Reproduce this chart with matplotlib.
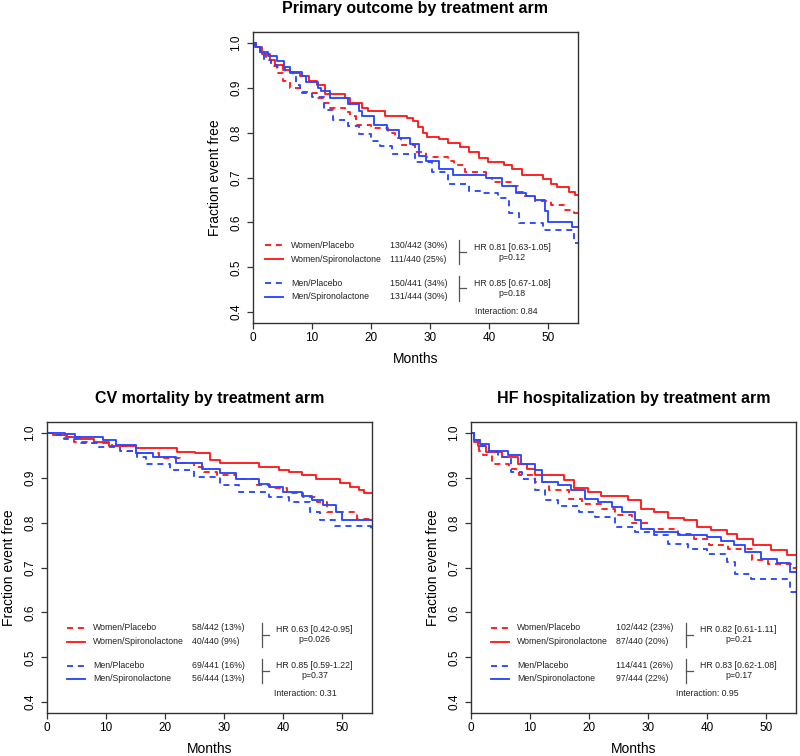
import matplotlib
matplotlib.use('Agg')
import matplotlib.pyplot as plt

plt.rcParams['font.family'] = ['Liberation Sans', 'DejaVu Sans']

# ---- data: Kaplan-Meier steps (months, fraction event free) ----
# Primary outcome
po_wp_t = [0, 0.5, 1.3, 2.2, 3, 4, 5, 6.3, 8.3, 10.8, 12, 13, 15.5, 16.5, 17.5, 20, 22.8, 24, 25, 27.5, 29.3,
           33, 34, 35.8, 39.5, 40.5, 44, 44.8, 45.7, 47.8, 50.5, 52.8, 54.3]
po_wp_s = [1.0, 0.99, 0.975, 0.962, 0.948, 0.932, 0.915, 0.9, 0.888, 0.878, 0.866, 0.855, 0.846, 0.836, 0.818,
           0.81, 0.798, 0.789, 0.772, 0.757, 0.746, 0.737, 0.727, 0.712, 0.7, 0.69, 0.68, 0.668, 0.658, 0.647,
           0.638, 0.628, 0.62]
po_ws_t = [0, 0.5, 1.5, 2.8, 3.8, 5, 6.3, 8, 9.5, 10.8, 12.2, 15.5, 16.5, 18.5, 19.5, 22.3, 26, 27, 28, 28.8,
           29.5, 31.5, 33, 35, 36.5, 38.3, 39.7, 42.5, 43.8, 45.5, 49, 50.5, 51.5, 53.5, 54.5]
po_ws_s = [1.0, 0.99, 0.975, 0.962, 0.95, 0.94, 0.932, 0.925, 0.915, 0.905, 0.885, 0.877, 0.867, 0.855, 0.848,
           0.838, 0.833, 0.826, 0.812, 0.8, 0.79, 0.786, 0.777, 0.768, 0.757, 0.744, 0.735, 0.727, 0.718, 0.705,
           0.697, 0.686, 0.678, 0.668, 0.66]
po_mp_t = [0, 0.5, 1.2, 1.8, 3, 4, 5.5, 6.8, 7.3, 8, 10, 12, 13.5, 16, 18, 20, 21.5, 23.5, 27.5, 30.3, 33,
           36.5, 39, 41.5, 43.3, 45, 49, 54.3]
po_mp_s = [1.0, 0.99, 0.975, 0.962, 0.95, 0.945, 0.935, 0.925, 0.905, 0.89, 0.88, 0.85, 0.828, 0.814, 0.797,
           0.782, 0.77, 0.752, 0.735, 0.712, 0.686, 0.67, 0.665, 0.655, 0.62, 0.598, 0.582, 0.555]
po_ms_t = [0, 0.4, 1.2, 2.5, 4, 5.3, 6.3, 8.3, 9, 11, 11.5, 13, 16, 18, 18.5, 20.5, 22.7, 24.7, 26.5, 28.1,
           29.3, 31.5, 33.8, 39.5, 42.2, 44.5, 46.2, 47.8, 49.5, 50, 54]
po_ms_s = [1.0, 0.99, 0.98, 0.97, 0.96, 0.945, 0.935, 0.925, 0.912, 0.9, 0.893, 0.877, 0.863, 0.848, 0.836,
           0.818, 0.805, 0.787, 0.774, 0.748, 0.736, 0.72, 0.706, 0.699, 0.682, 0.665, 0.658, 0.65, 0.625, 0.6,
           0.59]

# CV mortality
cv_wp_t = [0, 1.5, 3, 4.5, 6.7, 11, 13.5, 15, 19, 22.5, 24.8, 26.5, 28.7, 32, 35.5, 37.8, 40.6, 43.4, 45.7,
           47.4, 52.5]
cv_wp_s = [1.0, 0.996, 0.99, 0.98, 0.978, 0.97, 0.96, 0.954, 0.943, 0.932, 0.924, 0.913, 0.905, 0.896, 0.883,
           0.876, 0.865, 0.857, 0.846, 0.824, 0.809]
cv_ws_t = [0, 1, 3.3, 5.6, 8, 10.5, 15, 22, 25, 27.6, 29.2, 35.8, 39.3, 41, 43.2, 45.6, 49.5, 51.2, 52.8, 53.6]
cv_ws_s = [1.0, 0.995, 0.99, 0.987, 0.98, 0.97, 0.965, 0.958, 0.954, 0.94, 0.932, 0.924, 0.917, 0.912, 0.905,
           0.896, 0.888, 0.88, 0.872, 0.866]
cv_mp_t = [0, 1, 2.8, 5.5, 8.4, 12.4, 15.2, 16.8, 20.8, 24.8, 29.2, 32.5, 37.6, 41, 44.5, 46.2, 48.8, 54.8]
cv_mp_s = [1.0, 0.995, 0.987, 0.978, 0.969, 0.96, 0.946, 0.93, 0.918, 0.902, 0.883, 0.868, 0.857, 0.846, 0.824,
           0.806, 0.792, 0.782]
cv_ms_t = [0, 3, 4.8, 9.5, 11.7, 15, 18, 21.8, 26.3, 29.2, 32, 35.8, 37.6, 40, 43.2, 44.8, 46.7, 48.9, 50]
cv_ms_s = [1.0, 0.998, 0.99, 0.985, 0.972, 0.956, 0.945, 0.933, 0.92, 0.91, 0.898, 0.887, 0.88, 0.868, 0.859,
           0.85, 0.84, 0.824, 0.806]

# HF hospitalization
hf_wp_t = [0, 0.5, 1.3, 2, 3.6, 6.5, 8.2, 10.8, 13.2, 16.5, 18.8, 22.2, 24.4, 27.2, 30, 35, 37.8, 40.2, 43.5,
           47.5, 50.2, 54.2]
hf_wp_s = [1.0, 0.98, 0.96, 0.95, 0.93, 0.92, 0.905, 0.89, 0.872, 0.853, 0.842, 0.831, 0.816, 0.798, 0.786,
           0.775, 0.764, 0.749, 0.742, 0.716, 0.708, 0.7]
hf_ws_t = [0, 0.5, 1.2, 2.5, 5.2, 8, 9.5, 10.8, 15.8, 17.5, 19.8, 22, 26.6, 28.8, 31, 33.3, 36, 38.3, 40.6,
           43.3, 45, 47.8, 50.8, 53.5]
hf_ws_s = [1.0, 0.985, 0.97, 0.957, 0.946, 0.93, 0.92, 0.905, 0.894, 0.876, 0.868, 0.859, 0.85, 0.831, 0.824,
           0.811, 0.805, 0.79, 0.783, 0.775, 0.764, 0.75, 0.738, 0.728]
hf_mp_t = [0, 0.5, 1.5, 3, 4.5, 6.8, 8.6, 10.8, 12.6, 14.8, 18.2, 21, 24.3, 27.7, 31, 33.3, 36.8, 40, 43.4,
           44.6, 47.4, 54]
hf_mp_s = [1.0, 0.985, 0.97, 0.958, 0.946, 0.913, 0.898, 0.872, 0.85, 0.838, 0.824, 0.812, 0.79, 0.779, 0.772,
           0.753, 0.742, 0.73, 0.712, 0.686, 0.675, 0.645]
hf_ms_t = [0, 0.5, 1.5, 3, 6.3, 8.5, 10.8, 12, 14.8, 17, 19.3, 21.5, 23.8, 25.5, 27.7, 28.8, 31, 35, 40, 42.3,
           44.5, 46.3, 49, 51.8, 54]
hf_ms_s = [1.0, 0.985, 0.975, 0.96, 0.95, 0.93, 0.917, 0.89, 0.883, 0.872, 0.853, 0.846, 0.835, 0.824, 0.805,
           0.786, 0.779, 0.772, 0.768, 0.76, 0.749, 0.734, 0.72, 0.71, 0.69]

# ---- text ----
group_names = ['Women/Placebo', 'Women/Spironolactone', 'Men/Placebo', 'Men/Spironolactone']
po_counts = ['130/442 (30%)', '111/440 (25%)', '150/441 (34%)', '131/444 (30%)']
cv_counts = ['58/442 (13%)', '40/440 (9%)', '69/441 (16%)', '56/444 (13%)']
hf_counts = ['102/442 (23%)', '87/440 (20%)', '114/441 (26%)', '97/444 (22%)']
po_hr = ['HR 0.81 [0.63-1.05]', 'HR 0.85 [0.67-1.08]']
cv_hr = ['HR 0.63 [0.42-0.95]', 'HR 0.85 [0.59-1.22]']
hf_hr = ['HR 0.82 [0.61-1.11]', 'HR 0.83 [0.62-1.08]']
po_p = ['p=0.12', 'p=0.18']
cv_p = ['p=0.026', 'p=0.37']
hf_p = ['p=0.21', 'p=0.17']
po_inter = 'Interaction: 0.84'
cv_inter = 'Interaction: 0.31'
hf_inter = 'Interaction: 0.95'

x_ticks = [0, 10, 20, 30, 40, 50]
y_ticks = [0.4, 0.5, 0.6, 0.7, 0.8, 0.9, 1.0]

RED = '#FF1A1A'
BLUE = '#2A48FF'
styles = [(RED, '--'), (RED, '-'), (BLUE, '--'), (BLUE, '-')]


def km_panel(ax, title, curves, counts, hrs, ps, inter, dx=0.0, dy=0.0, ix=43.7):
    for (t, s), (c, ls) in zip(curves, styles):
        line, = ax.step(t + [55], s + [s[-1]], where='post', color=c, lw=1.35)
        if ls == '--':
            line.set_dashes((3.2, 2.6))

    # legend block
    rows = [0.566, 0.535, 0.481, 0.452]
    for i, (c, ls) in enumerate(styles):
        y = rows[i] + dy
        seg, = ax.plot([3.4 + dx, 6.4 + dx], [y, y], color=c, lw=1.35)
        if ls == '--':
            seg.set_dashes((3.2, 2.6))
        ax.text(7.8 + dx, y, group_names[i], fontsize=6.3, va='center', color='#222222')
        ax.text(24.6 + dx, y, counts[i], fontsize=6.3, va='center', color='#222222')
    for g, (top, bot) in enumerate([(0.577, 0.524), (0.497, 0.443)]):
        ax.plot([36.3 + dx, 36.3 + dx], [top + dy, bot + dy], color='#555555', lw=0.9)
        mid = (top + bot) / 2 + dy
        ax.plot([36.3 + dx, 37.5 + dx], [mid, mid], color='#555555', lw=0.9)
        ax.text(45.3 + dx, mid + 0.011, hrs[g], fontsize=6.3, ha='center', va='center', color='#222222')
        ax.text(45.3 + dx, mid - 0.011, ps[g], fontsize=6.3, ha='center', va='center', color='#222222')
    ax.text(ix, 0.419 + dy, inter, fontsize=6.3, ha='center', va='center', color='#222222')

    ax.set_xlim(0, 55)
    ax.set_ylim(0.376, 1.024)
    ax.set_xticks(x_ticks)
    ax.set_xticklabels([str(v) for v in x_ticks])
    ax.set_yticks(y_ticks)
    ax.set_yticklabels(['%.1f' % v for v in y_ticks], rotation=90, va='center')
    ax.tick_params(axis='both', length=4.3, width=0.9, color='#333333', labelsize=8.5)
    ax.tick_params(axis='x', pad=2)
    ax.tick_params(axis='y', pad=3.5)
    for sp in ax.spines.values():
        sp.set_color('#333333')
        sp.set_linewidth(1.0)
    ax.set_xlabel('Months', fontsize=10, labelpad=6)
    ax.set_ylabel('Fraction event free', fontsize=10, labelpad=6)
    ax.set_title(title, fontsize=11.5, fontweight='bold', pad=13.5)


fig = plt.figure(figsize=(8, 7.56), dpi=100)
w, h = 325 / 800, 291 / 756
ax1 = fig.add_axes([253 / 800, 1 - 323 / 756, w, h])
ax2 = fig.add_axes([47 / 800, 1 - 713 / 756, w, h])
ax3 = fig.add_axes([471 / 800, 1 - 713 / 756, w, h])

km_panel(ax1, 'Primary outcome by treatment arm',
         [(po_wp_t, po_wp_s), (po_ws_t, po_ws_s), (po_mp_t, po_mp_s), (po_ms_t, po_ms_s)],
         po_counts, po_hr, po_p, po_inter, dx=-1.4, dy=-0.017, ix=42.8)
km_panel(ax2, 'CV mortality by treatment arm',
         [(cv_wp_t, cv_wp_s), (cv_ws_t, cv_ws_s), (cv_mp_t, cv_mp_s), (cv_ms_t, cv_ms_s)],
         cv_counts, cv_hr, cv_p, cv_inter)
km_panel(ax3, 'HF hospitalization by treatment arm',
         [(hf_wp_t, hf_wp_s), (hf_ws_t, hf_ws_s), (hf_mp_t, hf_mp_s), (hf_ms_t, hf_ms_s)],
         hf_counts, hf_hr, hf_p, hf_inter, ix=40.0)

fig.savefig('out.png', dpi=100)
